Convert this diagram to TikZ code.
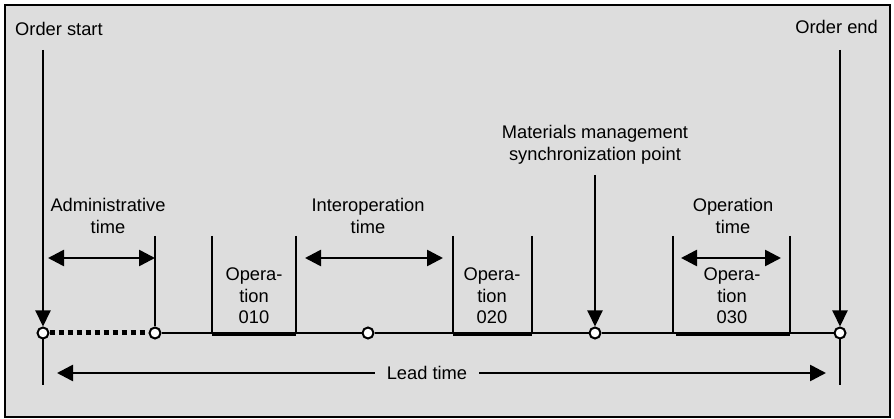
\documentclass[tikz,border=0pt]{standalone}
\usepackage{fontspec}
\setmainfont{Liberation Sans}
\usetikzlibrary{arrows.meta, positioning}
\definecolor{panel}{HTML}{DDDDDD}

\begin{document}
\begin{tikzpicture}[
    x=1pt, y=-1pt,
    font=\fontsize{18.3}{21.5}\selectfont,
    event/.style={circle, draw, fill=white, line width=2pt, inner sep=0pt, minimum size=11pt},
    txt/.style={align=center, inner sep=0pt},
    tick/.style={line width=1.6pt},
    spanarrow/.style={line width=2.6pt, {Triangle[length=16pt, width=16pt]}-{Triangle[length=16pt, width=16pt]}},
    downarrow/.style={line width=2pt, -{Triangle[length=16pt, width=15pt]}}
]
    \useasboundingbox (0,0) rectangle (894,419);
    \draw[fill=panel, line width=1.5pt] (5,5) rectangle (890,417);

    % Zeitpunkte auf der Achse
    \coordinate (top1) at (43,50);
    \coordinate (top5) at (840,50);
    \coordinate (bot1) at (43,385);
    \coordinate (bot5) at (840,385);
    \node[event] (1) at (43,333) {};
    \node[event] (2) at (155,333) {};
    \node[event] (3) at (368,333) {};
    \node[event] (4) at (595,333) {};
    \node[event] (5) at (840,333) {};

    % Achse
    \draw[tick] (2) -- (3) -- (4) -- (5);
    \draw[line width=5pt, dash pattern=on 5pt off 4pt] (1) -- (2);

    % Auftragsbeginn / -ende
    \node[txt, anchor=west] (os) at (15,29) {Order start};
    \node[txt, anchor=east] (oe) at (878,27) {Order end};
    \draw[downarrow] (top1) -- (1);
    \draw[downarrow] (top5) -- (5);
    \draw[tick, line width=2pt] (1) -- (bot1);
    \draw[tick, line width=2pt] (5) -- (bot5);

    % Administrative Zeit
    \coordinate (a0) at (155,236);
    \coordinate (al) at (48,258);
    \coordinate (ar) at (155,258);
    \draw[tick, line width=2pt] (a0) -- (2);
    \draw[spanarrow] (al) -- (ar);
    \node[txt] (at) at (108,216) {Administrative\\time};

    % Arbeitsgang 010
    \coordinate (p1a) at (212,236);
    \coordinate (p1b) at (212,333);
    \coordinate (q1a) at (296,236);
    \coordinate (q1b) at (296,333);
    \draw[tick] (p1a) -- (p1b);
    \draw[tick] (q1a) -- (q1b);
    \draw[line width=4pt] ([yshift=-1.5pt]p1b) -- ([yshift=-1.5pt]q1b);
    \node[txt] (op1) at (254,296) {Opera-\\tion\\010};

    % Zwischenzeit
    \coordinate (il) at (305,258);
    \coordinate (ir) at (443,258);
    \draw[spanarrow] (il) -- (ir);
    \node[txt] (it) at (368,216) {Interoperation\\time};

    % Arbeitsgang 020
    \coordinate (p2a) at (453,236);
    \coordinate (p2b) at (453,333);
    \coordinate (q2a) at (532,236);
    \coordinate (q2b) at (532,333);
    \draw[tick] (p2a) -- (p2b);
    \draw[tick] (q2a) -- (q2b);
    \draw[line width=4pt] ([yshift=-1.5pt]p2b) -- ([yshift=-1.5pt]q2b);
    \node[txt] (op2) at (492,296) {Opera-\\tion\\020};

    % Synchronisationspunkt
    \node[txt] (mm) at (595,145) {Materials management\\synchronization point};
    \coordinate (m0) at (595,175);
    \draw[downarrow] (m0) -- (4);

    % Arbeitsgang 030
    \coordinate (p3a) at (673,236);
    \coordinate (p3b) at (673,333);
    \coordinate (q3a) at (790,236);
    \coordinate (q3b) at (790,333);
    \draw[tick] (p3a) -- (p3b);
    \draw[tick] (q3a) -- (q3b);
    \draw[line width=4pt] ([xshift=3pt, yshift=-1.5pt]p3b) -- ([yshift=-1.5pt]q3b);
    \coordinate (ol) at (681,258);
    \coordinate (or) at (781,258);
    \draw[spanarrow] (ol) -- (or);
    \node[txt] (ot) at (733,216) {Operation\\time};
    \node[txt] (op3) at (732,296) {Opera-\\tion\\030};

    % Durchlaufzeit
    \coordinate (ll) at (57,373);
    \coordinate (lr) at (826,373);
    \draw[spanarrow] (ll) -- (lr);
    \node[fill=panel, inner xsep=12pt, inner ysep=2pt] (lt) at (427,373) {Lead time};
\end{tikzpicture}
\end{document}
